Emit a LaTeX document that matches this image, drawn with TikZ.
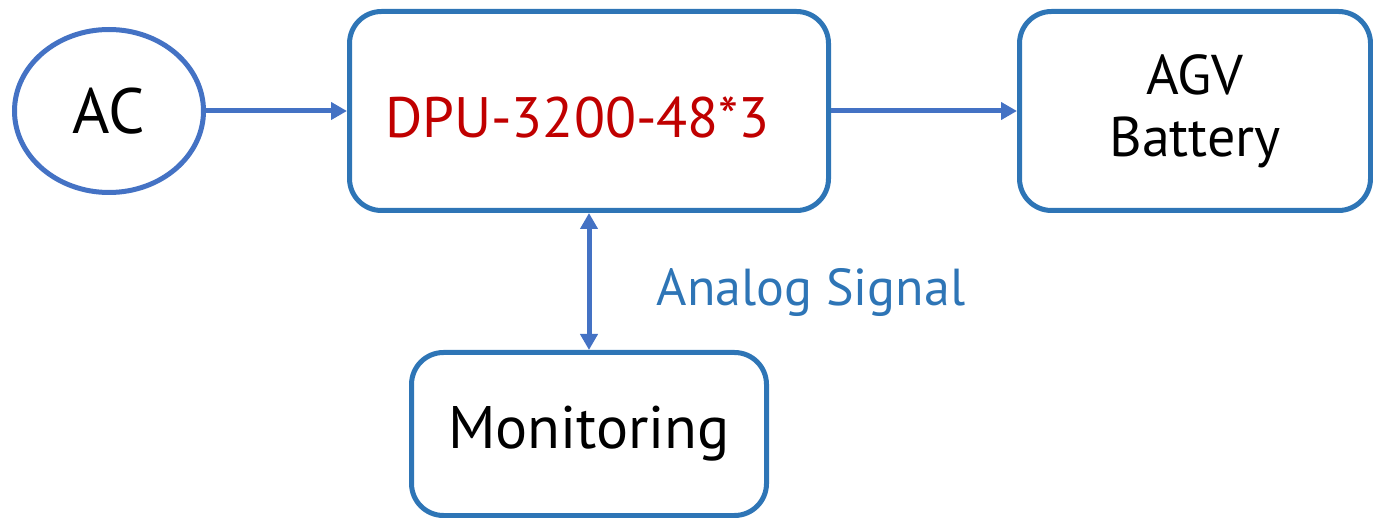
\documentclass[tikz,border=0pt]{standalone}
\usepackage{fontspec}
\setmainfont{PT Sans}
\usetikzlibrary{arrows.meta,shapes.geometric}
\definecolor{ringblue}{HTML}{4472C4}
\definecolor{boxblue}{HTML}{2E75B6}
\definecolor{darkred}{HTML}{C00000}

\begin{document}
\begin{tikzpicture}[x=1pt,y=-1pt,line width=5pt,
	block/.style ={draw=boxblue, rounded corners=32pt, align=center, inner sep=0pt},
	src/.style ={ellipse, draw=ringblue, inner sep=0pt},
	link/.style ={draw=ringblue, -{Triangle[length=16pt,width=17pt]}}]
		\useasboundingbox (0,0) rectangle (1373,518);
		\node[src, minimum width=189pt, minimum height=163pt, font=\fontsize{64}{64}\selectfont] (ac) at (109,111) {AC};
		\node[block, minimum width=479pt, minimum height=199pt, text height=53pt, text=darkred, font=\fontsize{57}{57}\selectfont] (dpu) at (589,111) {DPU-3200-48*3\hspace*{23pt}};
		\node[block, minimum width=351pt, minimum height=199pt, font=\fontsize{56}{62}\selectfont] (agv) at (1195,111) {AGV\\Battery};
		\node[block, minimum width=355pt, minimum height=163pt, font=\fontsize{60}{60}\selectfont] (mon) at (589,434) {Monitoring};
		\node[text=boxblue, font=\fontsize{52}{52}\selectfont] (sig) at (811,293) {Analog Signal};
		\draw[link] (ac) -- (dpu);
		\draw[link] (dpu) -- (agv);
		\draw[link, {Triangle[length=16pt,width=17pt]}-{Triangle[length=16pt,width=17pt]}] (dpu) -- (mon);
	\end{tikzpicture}
\end{document}
